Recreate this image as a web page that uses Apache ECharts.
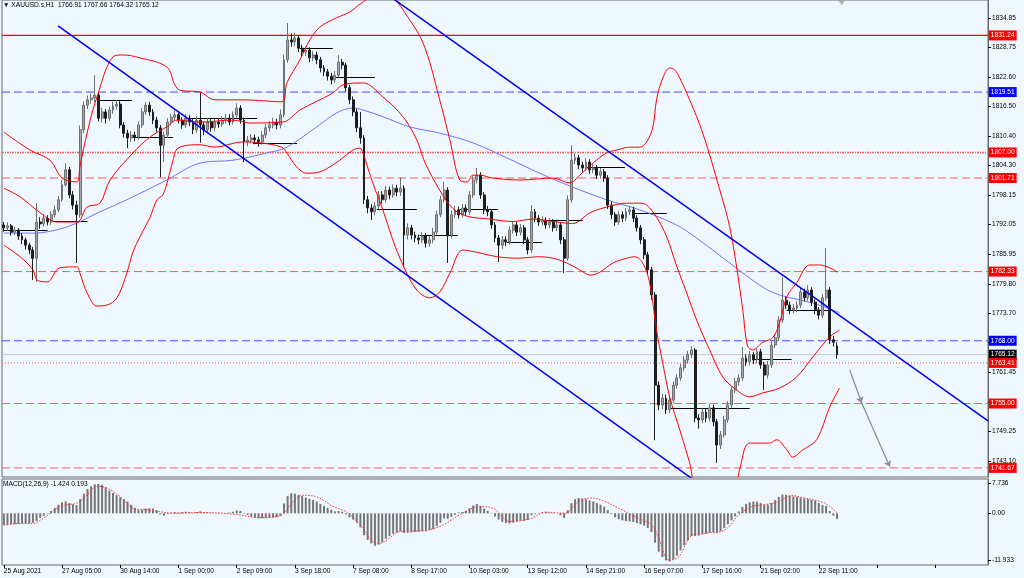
<!DOCTYPE html>
<html><head><meta charset="utf-8">
<script src="https://cdn.jsdelivr.net/npm/echarts@6/dist/echarts.min.js"></script>
<style>html,body{margin:0;padding:0;background:#eff7ff}#c{width:1024px;height:578px}</style>
</head><body><div id="c"></div><script>
const priceTicks = [1834.85,1828.75,1822.60,1816.50,1810.40,1804.30,1798.15,1792.05,1785.95,1779.80,1773.70,1767.60,1761.45,1755.35,1749.25,1743.10];
const macdTicks = [7.736, 0, -11.933];
const xLabels = ['25 Aug 2021','27 Aug 05:00','30 Aug 14:00','1 Sep 00:00','2 Sep 09:00','3 Sep 18:00','7 Sep 08:00','8 Sep 17:00','10 Sep 03:00','13 Sep 12:00','14 Sep 21:00','16 Sep 07:00','17 Sep 16:00','21 Sep 02:00','22 Sep 11:00'];
// [open, close, low, high], 2-hour steps
const candles = [
[1792.0,1791.4,1790.6,1792.6],[1791.4,1791.8,1790.8,1792.5],[1791.8,1790.5,1789.8,1792.2],[1790.5,1790.9,1789.9,1791.6],[1790.9,1789.7,1788.9,1791.3],
[1789.7,1788.9,1788.0,1790.3],[1788.9,1787.8,1786.9,1789.4],[1787.8,1786.8,1785.9,1788.3],[1786.8,1785.1,1780.6,1787.4],[1785.1,1792.6,1780.2,1796.5],
[1792.6,1792.2,1791.2,1793.6],[1792.2,1793.4,1791.6,1794.2],[1793.4,1792.6,1791.9,1794.0],[1792.6,1794.1,1792.0,1794.8],[1794.1,1795.1,1793.5,1796.0],
[1795.1,1797.2,1794.6,1798.0],[1797.2,1800.3,1796.8,1801.2],[1800.3,1803.4,1799.9,1804.8],[1803.4,1798.2,1797.5,1804.0],[1798.2,1796.1,1795.2,1799.0],
[1796.1,1794.1,1784.1,1797.0],[1794.1,1811.7,1793.5,1812.6],[1811.7,1816.8,1811.0,1817.6],[1816.8,1817.9,1816.0,1818.8],[1817.9,1818.3,1817.1,1819.2],
[1818.3,1818.9,1817.4,1823.0],[1818.9,1814.1,1813.4,1819.4],[1814.1,1815.4,1813.2,1816.3],[1815.4,1814.1,1813.0,1816.0],[1814.1,1815.8,1813.6,1816.5],
[1815.8,1816.6,1815.0,1817.5],[1816.6,1817.0,1815.9,1817.9],[1817.0,1812.7,1812.0,1817.6],[1812.7,1811.0,1810.1,1813.3],[1811.0,1810.0,1807.9,1811.7],
[1810.0,1810.6,1809.2,1811.4],[1810.6,1810.2,1809.3,1811.3],[1810.2,1812.7,1809.6,1813.4],[1812.7,1815.4,1812.1,1816.2],[1815.4,1816.8,1814.8,1817.4],
[1816.8,1815.4,1814.6,1817.5],[1815.4,1813.7,1812.9,1816.0],[1813.7,1812.1,1811.2,1814.4],[1812.1,1808.5,1801.9,1812.7],[1808.5,1810.6,1805.0,1811.3],
[1810.6,1813.3,1810.0,1814.1],[1813.3,1814.3,1812.6,1815.0],[1814.3,1814.8,1813.6,1815.7],[1814.8,1813.7,1813.0,1815.4],[1813.7,1812.7,1811.9,1814.3],
[1812.7,1814.1,1812.1,1814.9],[1814.1,1813.3,1812.5,1814.8],[1813.3,1811.7,1810.8,1813.9],[1811.7,1813.7,1811.1,1814.5],[1813.7,1812.7,1809.0,1819.5],
[1812.7,1811.7,1810.6,1813.4],[1811.7,1813.3,1811.0,1814.1],[1813.3,1812.1,1811.3,1813.9],[1812.1,1813.3,1811.5,1814.0],[1813.3,1812.9,1812.1,1814.0],
[1812.9,1813.7,1812.3,1814.5],[1813.7,1814.1,1813.0,1815.0],[1814.1,1813.3,1812.6,1814.9],[1813.3,1814.8,1812.8,1815.5],[1814.8,1816.2,1814.2,1817.2],
[1816.2,1813.7,1813.0,1816.8],[1813.7,1809.2,1805.0,1814.2],[1809.2,1809.6,1808.3,1810.4],[1809.6,1810.0,1808.9,1810.8],[1810.0,1809.6,1808.7,1810.7],
[1809.6,1809.2,1808.2,1810.3],[1809.2,1810.6,1808.6,1811.4],[1810.6,1812.1,1810.0,1812.9],[1812.1,1812.7,1811.3,1813.5],[1812.7,1813.3,1812.0,1814.2],
[1813.3,1812.7,1811.8,1814.0],[1812.7,1814.8,1812.0,1815.9],[1814.8,1826.2,1814.3,1827.3],[1826.2,1830.3,1825.6,1833.8],[1830.3,1829.9,1828.9,1831.6],
[1829.9,1830.7,1829.0,1831.8],[1830.7,1828.6,1827.8,1831.2],[1828.6,1827.8,1826.9,1829.3],[1827.8,1828.2,1827.0,1829.0],[1828.2,1826.6,1825.7,1828.8],
[1826.6,1827.2,1825.9,1828.0],[1827.2,1826.2,1825.3,1827.9],[1826.2,1824.5,1823.6,1826.8],[1824.5,1823.7,1822.8,1825.1],[1823.7,1822.8,1821.9,1824.3],
[1822.8,1822.0,1821.1,1823.5],[1822.0,1823.0,1821.4,1823.9],[1823.0,1825.7,1822.5,1827.2],[1825.7,1825.1,1824.2,1826.4],[1825.1,1820.4,1819.6,1825.6],
[1820.4,1817.9,1817.0,1821.0],[1817.9,1815.4,1814.5,1818.6],[1815.4,1812.1,1811.2,1816.0],[1812.1,1810.0,1808.8,1815.4],[1810.0,1797.2,1796.3,1810.6],
[1797.2,1795.5,1794.4,1798.0],[1795.5,1794.7,1793.0,1796.3],[1794.7,1795.9,1794.0,1796.8],[1795.9,1798.2,1795.3,1799.0],[1798.2,1797.2,1796.4,1799.0],
[1797.2,1799.2,1796.6,1800.1],[1799.2,1798.2,1797.3,1799.9],[1798.2,1799.6,1797.6,1800.4],[1799.6,1798.8,1797.9,1800.3],[1798.8,1799.6,1798.0,1801.9],
[1799.6,1789.9,1783.3,1800.2],[1789.9,1791.4,1789.0,1792.3],[1791.4,1789.9,1789.0,1792.0],[1789.9,1789.3,1788.4,1790.6],[1789.3,1788.9,1788.0,1790.0],
[1788.9,1789.7,1788.2,1790.5],[1789.7,1788.2,1787.3,1790.3],[1788.2,1788.9,1787.5,1789.7],[1788.9,1790.5,1788.2,1791.4],[1790.5,1794.1,1790.0,1795.0],
[1794.1,1797.2,1793.6,1798.0],[1797.2,1799.2,1796.6,1800.9],[1799.2,1789.9,1784.1,1799.8],[1789.9,1794.1,1789.2,1795.0],[1794.1,1795.1,1793.4,1796.0],
[1795.1,1794.1,1793.3,1795.8],[1794.1,1795.5,1793.5,1796.3],[1795.5,1794.7,1793.9,1796.2],[1794.7,1798.2,1794.1,1799.0],[1798.2,1801.3,1797.6,1802.1],
[1801.3,1802.3,1800.6,1803.8],[1802.3,1798.2,1797.4,1802.9],[1798.2,1795.1,1794.2,1798.8],[1795.1,1794.7,1793.8,1795.9],[1794.7,1792.0,1791.2,1795.3],
[1792.0,1789.3,1788.4,1792.6],[1789.3,1787.8,1784.3,1789.9],[1787.8,1788.9,1787.0,1789.7],[1788.9,1788.5,1787.6,1789.6],[1788.5,1790.9,1787.9,1791.7],
[1790.9,1792.0,1790.2,1792.8],[1792.0,1790.5,1789.7,1792.6],[1790.5,1791.4,1789.8,1792.2],[1791.4,1788.9,1788.0,1792.0],[1788.9,1786.8,1785.9,1789.5],
[1786.8,1794.7,1786.2,1796.1],[1794.7,1793.4,1792.6,1795.3],[1793.4,1792.6,1791.8,1794.0],[1792.6,1793.0,1791.9,1793.8],[1793.0,1792.0,1791.2,1793.6],
[1792.0,1792.6,1791.3,1793.4],[1792.6,1791.4,1790.6,1793.2],[1791.4,1792.0,1790.7,1792.8],[1792.0,1788.9,1788.0,1792.6],[1788.9,1785.1,1782.0,1789.5],
[1785.1,1797.2,1784.6,1798.1],[1797.2,1805.4,1796.6,1808.5],[1805.4,1805.9,1804.6,1806.8],[1805.9,1804.4,1803.6,1806.5],[1804.4,1803.8,1803.0,1805.1],
[1803.8,1805.0,1803.2,1805.8],[1805.0,1803.4,1802.6,1805.6],[1803.4,1803.8,1802.7,1804.6],[1803.8,1802.3,1801.5,1804.4],[1802.3,1803.0,1801.6,1803.8],
[1803.0,1801.7,1800.9,1803.6],[1801.7,1796.1,1795.3,1802.3],[1796.1,1794.1,1793.2,1796.8],[1794.1,1792.6,1791.8,1794.7],[1792.6,1794.1,1792.0,1794.9],
[1794.1,1793.4,1792.6,1794.8],[1793.4,1794.7,1792.8,1795.5],[1794.7,1795.1,1794.0,1795.9],[1795.1,1793.4,1792.6,1795.7],[1793.4,1791.4,1790.6,1794.0],
[1791.4,1788.9,1788.0,1792.0],[1788.9,1785.8,1784.9,1789.5],[1785.8,1782.7,1781.8,1786.4],[1782.7,1777.5,1776.5,1783.3],[1777.5,1758.8,1747.4,1778.1],
[1758.8,1754.7,1753.6,1759.6],[1754.7,1756.1,1753.8,1757.0],[1756.1,1753.7,1752.8,1756.8],[1753.7,1755.7,1753.0,1756.6],[1755.7,1758.8,1755.1,1759.6],
[1758.8,1760.3,1758.1,1761.1],[1760.3,1762.4,1759.7,1763.2],[1762.4,1764.0,1761.7,1764.8],[1764.0,1765.1,1763.3,1765.9],[1765.1,1766.1,1764.4,1766.9],
[1766.1,1752.0,1751.1,1766.5],[1752.0,1751.6,1749.8,1752.8],[1751.6,1753.2,1750.9,1754.0],[1753.2,1752.0,1751.1,1754.0],[1752.0,1754.1,1751.3,1754.9],
[1754.1,1751.2,1750.3,1754.7],[1751.2,1746.4,1742.7,1751.8],[1746.4,1748.5,1745.6,1749.3],[1748.5,1751.6,1747.9,1752.4],[1751.6,1754.7,1751.0,1755.5],
[1754.7,1757.8,1754.1,1758.6],[1757.8,1759.5,1757.1,1760.3],[1759.5,1760.3,1758.7,1761.1],[1760.3,1764.4,1759.7,1766.7],[1764.4,1763.6,1762.8,1765.2],
[1763.6,1765.1,1762.9,1765.9],[1765.1,1764.0,1763.2,1765.7],[1764.0,1765.7,1763.3,1766.4],[1765.7,1763.0,1762.2,1766.3],[1763.0,1760.9,1757.8,1763.6],
[1760.9,1763.0,1760.2,1763.8],[1763.0,1767.1,1762.4,1767.9],[1767.1,1768.6,1766.5,1769.4],[1768.6,1772.3,1768.0,1773.1],[1772.3,1776.4,1771.7,1781.2],
[1776.4,1775.4,1774.6,1777.1],[1775.4,1774.4,1773.5,1776.1],[1774.4,1774.8,1773.7,1775.6],[1774.8,1775.4,1774.0,1776.2],[1775.4,1778.1,1774.8,1779.0],
[1778.1,1776.9,1776.1,1778.8],[1776.9,1778.5,1776.3,1779.5],[1778.5,1776.0,1775.2,1779.1],[1776.0,1774.4,1773.5,1776.6],[1774.4,1773.3,1772.4,1775.0],
[1773.3,1776.9,1772.7,1777.7],[1776.9,1778.5,1776.3,1787.2],[1778.5,1768.2,1767.3,1779.1],[1768.2,1767.7,1766.8,1769.0],[1766.91,1765.12,1764.32,1767.66]
];
// Bollinger bands and moving average: [bar position, price]
const bbUpper = [[0,1811.2],[7.2,1807.5],[12.7,1805.4],[16,1801.7],[20.1,1800.9],[20.9,1804.0],[23.1,1811.7],[25.6,1818.5],[30,1826.8],[32.7,1827.2],[37.4,1826.6],[44.8,1824.7],[47,1821.0],[48.4,1819.9],[53.9,1819.5],[58,1817.9],[65.7,1817.9],[76.4,1817.5],[77.8,1821.4],[81.4,1826.2],[84.1,1830.3],[86.9,1833.0],[91.5,1834.9],[95.1,1836.1],[98.4,1838.0],[102,1839.4],[106,1839.2],[111.6,1834.4],[115.7,1828.8],[119.8,1817.9],[122.6,1809.6],[125.3,1801.3],[127.3,1800.9],[128.9,1802.3],[130.8,1802.3],[134.4,1801.7],[141.8,1801.3],[150.9,1801.7],[155.5,1800.7],[158.3,1802.3],[161.9,1804.8],[165.7,1806.9],[168.5,1807.5],[172,1808.1],[174.8,1808.1],[176.7,1809.2],[178.4,1812.3],[179.4,1817.9],[181.1,1822.4],[183,1824.5],[184.4,1824.1],[185.8,1822.4],[188.5,1817.9],[192.1,1811.0],[196.8,1799.2],[199.5,1791.6],[201.4,1783.3],[203.1,1774.4],[204.4,1766.9],[205.8,1766.1],[208.6,1767.7],[211.3,1768.6],[213.2,1771.7],[215.2,1777.1],[217.9,1780.0],[221.5,1783.7],[224.2,1783.7],[227,1783.1],[229.2,1782.2]];
const bbMiddle = [[0,1799.6],[4.5,1797.8],[10,1794.5],[14.6,1792.6],[20.1,1792.6],[22.9,1795.7],[26.4,1796.5],[29.2,1801.3],[35.5,1806.9],[40.2,1810.2],[44.8,1812.3],[47.6,1813.7],[53.9,1813.3],[63,1813.7],[67.6,1813.1],[76.7,1813.3],[81.4,1815.8],[90.4,1819.3],[93.2,1821.0],[98.7,1821.4],[104.2,1818.5],[109.7,1814.4],[113.5,1809.6],[115.7,1805.0],[119.8,1799.2],[123.4,1795.4],[127.3,1793.8],[133.6,1793.2],[139.9,1792.7],[145.4,1793.2],[150.9,1792.7],[156.4,1792.3],[161.1,1794.5],[165.7,1795.7],[171.2,1796.5],[174.8,1796.5],[176.7,1796.1],[179.4,1793.6],[182.2,1789.5],[185,1783.3],[187.7,1777.9],[190.4,1772.3],[194,1766.1],[197.6,1760.5],[201.4,1757.8],[205,1756.4],[208.6,1757.2],[213.2,1758.2],[217.9,1760.5],[222.3,1764.6],[227,1768.8],[229.7,1770.2]];
const bbLower = [[0,1787.8],[4.5,1785.4],[8,1782.7],[9.1,1780.6],[11.9,1780.2],[15.4,1783.1],[20.1,1783.3],[20.9,1782.0],[22.9,1777.9],[25.6,1775.2],[28.4,1775.4],[31.1,1776.9],[33.8,1782.0],[35.5,1786.4],[37.4,1789.5],[40.2,1793.6],[42.1,1797.2],[43.7,1798.2],[45.1,1801.3],[46.5,1805.4],[47.9,1807.9],[53.9,1808.6],[58,1808.1],[65.7,1809.2],[70.4,1809.0],[76.4,1808.1],[77.8,1806.9],[80.5,1804.0],[83.3,1802.7],[86.9,1803.0],[90.4,1804.4],[93.2,1805.9],[95.9,1807.5],[97.9,1807.9],[98.7,1806.9],[101.4,1800.7],[104.2,1795.1],[106.9,1788.9],[109.7,1783.7],[113.5,1778.5],[117.1,1776.9],[119.8,1778.1],[122.6,1782.0],[126.2,1786.8],[130.8,1786.2],[135.5,1785.4],[141.8,1785.1],[146.5,1785.4],[150.9,1785.1],[154.7,1784.1],[158.3,1782.7],[161.1,1781.6],[163.8,1782.2],[167.4,1784.1],[171.2,1785.1],[173.4,1785.4],[175.6,1784.1],[177.5,1780.0],[179.4,1770.2],[181.1,1763.4],[183,1756.4],[185.8,1749.5],[188.5,1742.7],[190.4,1737.1],[195.4,1735.0],[200.9,1737.1],[202.2,1741.2],[205,1746.8],[210.5,1746.8],[212.4,1747.5],[215.2,1745.4],[216.8,1743.9],[219.6,1745.4],[223.4,1747.5],[227,1754.3],[229.7,1758.2]];
const maLine = [[0,1790.3],[8,1790.3],[17.4,1791.6],[26.4,1794.7],[33.8,1797.2],[44.8,1801.3],[53.9,1804.8],[63,1805.4],[72.3,1806.9],[77.8,1808.1],[86,1812.3],[91.5,1815.2],[95.9,1816.2],[98.7,1815.8],[104.2,1814.4],[111.6,1812.3],[119.8,1811.0],[128.9,1809.0],[138.2,1805.9],[147.3,1802.7],[156.4,1799.8],[165.7,1797.2],[174.8,1795.1],[183.8,1792.4],[188.5,1790.3],[194.8,1786.8],[199.5,1784.1],[208.6,1779.1],[213.2,1777.5],[222.3,1775.8],[229.7,1773.8]];
const channelLower = [[14.9,1833.2],[200,1733.6]];
const channelUpper = [[100,1842.6],[270.5,1751.4]];
const levelPrices = [1831.24,1819.51,1807.00,1801.71,1782.33,1768.00,1765.12,1763.41,1755.00,1741.67];
// [start bar, end bar, price]
const pivots = [[0,12,1790.9],[13.5,23,1792.8],[25.6,35.2,1817.9],[35.5,46.5,1810.2],[51.2,69.6,1814.1],[68.5,80.6,1809.0],[81.4,90.4,1828.6],[90.4,102,1822.6],[102.5,113.5,1795.3],[114.3,124.8,1789.9],[125.3,135.8,1795.3],[138.2,147.9,1788.3],[148.7,159.1,1793.0],[160.2,170.7,1804.0],[172.9,182.2,1794.5],[183,205,1754.1],[205.8,216.5,1764.2],[215.2,227,1774.4]];
const arrowPath = [[232.5,1761.9],[235.8,1755.1],[243.5,1741.9]];
const shiftMarker = [[230.3,1838.0]];
const macdHist = [-3.0,-2.9,-2.8,-2.8,-2.7,-2.6,-2.6,-2.5,-2.4,-2.0,
-1.2,-0.6,-0.1,0.6,1.4,2.2,2.8,3.0,2.6,2.3,2.1,3.6,5.0,6.2,6.9,7.4,7.5,7.3,6.6,5.8,5.2,4.6,4.1,3.6,3.0,2.2,1.4,0.8,
0.9,1.2,1.3,1.2,0.8,-0.3,-0.6,-0.2,
0.2,0.3,0.2,0.3,0.4,0.3,0.1,0.3,0.5,0.3,0.2,0.1,0.0,0.1,-0.1,0.0,0.2,0.4,
0.7,0.6,0.1,-0.4,-0.8,-1.1,-1.3,-1.3,-1.2,-1.2,-1.1,-1.0,-0.6,
2.5,4.4,5.1,5.0,4.7,4.4,4.0,3.7,3.4,3.0,2.4,1.9,1.4,0.9,0.5,0.6,0.4,
-0.3,-1.0,-1.6,-2.4,-3.6,-5.6,-6.8,-7.7,-8.3,-8.0,-7.4,-6.5,-5.8,-5.2,-4.9,-4.6,
-5.0,-5.0,-4.9,-4.8,-4.7,-4.6,-4.6,-4.3,-4.0,-3.3,-2.4,-1.3,-1.4,-0.9,-0.4,
0.2,0.3,0.6,1.3,2.0,2.4,1.9,1.2,0.6,0.1,
-0.8,-1.6,-2.2,-2.5,-2.6,-2.4,-2.1,-1.9,-1.9,-1.7,
-0.5,-0.2,0.1,0.2,0.3,0.2,0.1,0.0,-0.5,-1.2,
0.8,2.6,3.6,3.9,3.8,3.6,3.3,3.0,2.6,2.2,1.7,0.8,
-0.2,-1.0,-1.5,-1.8,-2.0,-2.1,-2.2,-2.5,-2.8,-3.2,-3.8,-4.8,
-7.5,-9.8,-11.2,-12.0,-12.3,-11.8,-10.8,-9.5,-8.2,-6.9,-5.8,
-5.8,-5.7,-5.4,-5.2,-5.0,-4.8,-5.0,-4.6,-3.8,-2.8,-1.8,-0.8,
0.5,1.6,2.4,2.8,3.0,3.0,2.6,2.2,2.2,2.6,3.4,4.2,
4.8,4.7,4.5,4.3,4.2,4.0,3.8,3.6,3.4,3.2,2.6,2.1,1.9,0.6,-0.6,-1.42];
const macdSignal = [[0,-3.0],[4.5,-2.6],[8,-2.6],[10.8,-1.3],[14.6,1.3],[17.4,2.2],[20.1,2.6],[22.9,4.7],[25.6,6.9],[28.4,6.4],[31.9,4.3],[35.5,1.3],[39.3,0.9],[42.9,0.4],[46.5,0.0],[53.9,0.2],[63,-0.2],[70.4,-1.1],[75,-0.8],[76.7,-0.3],[79.4,2.8],[82.2,4.6],[86,4.2],[90.4,1.8],[94.3,0.3],[97.9,-3.0],[101.4,-7.2],[103.4,-7.7],[105.3,-6.8],[108.8,-4.7],[116.3,-4.3],[120.7,-3.0],[125.3,-0.4],[130.8,1.7],[134.4,1.3],[139.1,-2.1],[145.1,-1.3],[148.7,0.3],[154.2,0.0],[158,3.0],[161.6,3.9],[165.2,3.0],[169,1.3],[174.5,-1.3],[178.1,-3.0],[180,-6.4],[182.8,-12.0],[185.5,-11.1],[189.1,-5.6],[192.6,-5.1],[198.1,-4.3],[202,-0.4],[205.5,1.7],[209.1,2.2],[213,3.0],[216.5,4.5],[220.1,3.9],[225.6,2.6],[229,0.19]];

const FONT = 'Liberation Sans, DejaVu Sans, sans-serif';
const FS = 6.6;
const NCAT = 271;
const cats = Array.from({length: NCAT}, (_, i) => String(i));
const RED = '#ff0000', LRED = '#ff5a5a', BLUE = '#4848ff';
const levelStyle = [
  {c: RED, t: 'solid', w: 1.2, bg: '#ff0000'},
  {c: BLUE, t: [8,4], w: 1, bg: '#0000ff'},
  {c: LRED, t: [2,1,1,1], w: 1.5, bg: '#ff0000'},
  {c: LRED, t: [8,4], w: 1, bg: '#ff0000'},
  {c: LRED, t: [8,4], w: 1, bg: '#ff0000'},
  {c: BLUE, t: [8,4], w: 1, bg: '#0000ff'},
  {c: '#c8c8c8', t: 'solid', w: 1, bg: '#000000'},
  {c: '#ff5050', t: [1,2], w: 1, bg: '#ff0000'},
  {c: LRED, t: [8,4], w: 1, bg: '#ff0000'},
  {c: LRED, t: [8,4], w: 1, bg: '#ff0000'}
];
const levelSeries = levelPrices.map((p, i) => ({
  type: 'line', xAxisIndex: 1, yAxisIndex: 0, silent: true, showSymbol: false, z: 3,
  data: [[-0.5, p], [270.45, p]],
  lineStyle: {color: levelStyle[i].c, type: levelStyle[i].t, width: levelStyle[i].w},
  endLabel: {show: true, distance: 1, formatter: p.toFixed(2), color: '#fff',
             backgroundColor: levelStyle[i].bg, padding: [2,2,1,2], fontSize: FS, fontFamily: FONT}
}));
const bandLine = (data) => ({type: 'line', xAxisIndex: 1, yAxisIndex: 0, data, smooth: 0.35, showSymbol: false,
  lineStyle: {color: RED, width: 1}, z: 5, silent: true});

const chart = echarts.init(document.getElementById('c'), null, {renderer: 'canvas'});
chart.setOption({
  animation: false,
  backgroundColor: '#eff7ff',
  textStyle: {fontFamily: FONT},
  title: [
    {text: '\u25BC XAUUSD.s,H1  1766.91 1767.66 1764.32 1765.12', left: 3, top: 2, padding: 0,
     textStyle: {fontSize: FS, fontWeight: 'normal', color: '#000', fontFamily: FONT}},
    {text: 'MACD(12,26,9) -1.424 0.193', left: 3, top: 481, padding: 0,
     textStyle: {fontSize: FS, fontWeight: 'normal', color: '#000', fontFamily: FONT}}
  ],
  grid: [
    {left: 2, top: 0, width: 986, height: 477, show: true, borderColor: '#6a6a6a', borderWidth: 1},
    {left: 2, top: 479, width: 986, height: 86, show: true, borderColor: '#6a6a6a', borderWidth: 1}
  ],
  xAxis: [
    {type: 'category', gridIndex: 0, data: cats, show: false, axisLine: {onZero: false}},
    {type: 'value', gridIndex: 0, min: -0.5, max: NCAT - 0.5, show: false, axisLine: {onZero: false}},
    {type: 'category', gridIndex: 1, data: cats, position: 'bottom',
     axisLine: {show: false, onZero: false},
     axisTick: {show: true, interval: 15, alignWithLabel: true, length: 3, lineStyle: {color: '#000'}},
     axisLabel: {interval: 15, align: 'left', margin: 3, fontSize: FS, color: '#000', fontFamily: FONT,
                 formatter: (v, idx) => xLabels[idx / 16] || ''},
     splitLine: {show: false}},
    {type: 'value', gridIndex: 1, min: -0.5, max: NCAT - 0.5, show: false, axisLine: {onZero: false}}
  ],
  yAxis: [
    {type: 'value', gridIndex: 0, position: 'right', min: 1739.78, max: 1838.58, scale: true,
     axisLine: {show: true, onZero: false, lineStyle: {color: '#6a6a6a'}},
     axisTick: {show: true, length: 3, customValues: priceTicks, lineStyle: {color: '#000'}},
     axisLabel: {customValues: priceTicks, formatter: v => v.toFixed(2), fontSize: FS, color: '#000', margin: 4, fontFamily: FONT},
     splitLine: {show: false}},
    {type: 'value', gridIndex: 1, position: 'right', min: -13.21, max: 8.76,
     axisLine: {show: true, onZero: false, lineStyle: {color: '#6a6a6a'}},
     axisTick: {show: true, length: 3, customValues: macdTicks, lineStyle: {color: '#000'}},
     axisLabel: {customValues: macdTicks, formatter: v => (v === 0 ? '0.00' : String(v)), fontSize: FS, color: '#000', margin: 4, fontFamily: FONT},
     splitLine: {show: false}}
  ],
  series: [
    ...levelSeries,
    {type: 'candlestick', xAxisIndex: 0, yAxisIndex: 0, data: candles, barWidth: 2.4, z: 4, silent: true,
     itemStyle: {color: '#a8a8a8', color0: '#1e1e1e', borderColor: '#707070', borderColor0: '#1e1e1e', borderWidth: 1}},
    {type: 'lines', coordinateSystem: 'cartesian2d', xAxisIndex: 1, yAxisIndex: 0, z: 4, silent: true,
     lineStyle: {color: '#000', width: 1.2, opacity: 1},
     data: pivots.map(([a, b, p]) => ({coords: [[a, p], [b, p]]}))},
    bandLine(bbUpper), bandLine(bbMiddle), bandLine(bbLower),
    {type: 'line', xAxisIndex: 1, yAxisIndex: 0, data: maLine, smooth: 0.35, showSymbol: false, z: 4, silent: true,
     lineStyle: {color: '#7474ff', width: 1}},
    {type: 'line', xAxisIndex: 1, yAxisIndex: 0, data: channelLower, showSymbol: false, z: 6, silent: true,
     lineStyle: {color: '#0000ee', width: 1.5}},
    {type: 'line', xAxisIndex: 1, yAxisIndex: 0, data: channelUpper, showSymbol: false, z: 6, silent: true,
     lineStyle: {color: '#0000ee', width: 1.5}},
    {type: 'lines', coordinateSystem: 'cartesian2d', xAxisIndex: 1, yAxisIndex: 0, z: 6, silent: true,
     symbol: ['none', 'arrow'], symbolSize: 6,
     lineStyle: {color: '#8a8a8a', width: 1.2, opacity: 1},
     data: [{coords: [arrowPath[0], arrowPath[1]]}, {coords: [arrowPath[1], arrowPath[2]]}]},
    {type: 'scatter', xAxisIndex: 1, yAxisIndex: 0, data: shiftMarker, symbol: 'triangle', symbolRotate: 180,
     symbolSize: [7, 5], silent: true, z: 6, itemStyle: {color: '#a0a0a0'}},
    {type: 'bar', xAxisIndex: 2, yAxisIndex: 1, data: macdHist, barWidth: 2, silent: true,
     itemStyle: {color: '#767676'}},
    {type: 'line', xAxisIndex: 3, yAxisIndex: 1, data: macdSignal, smooth: 0.35, showSymbol: false, silent: true, z: 5,
     lineStyle: {color: '#ff3030', width: 1, type: [1.5, 1.5]}}
  ]
});
</script></body></html>
